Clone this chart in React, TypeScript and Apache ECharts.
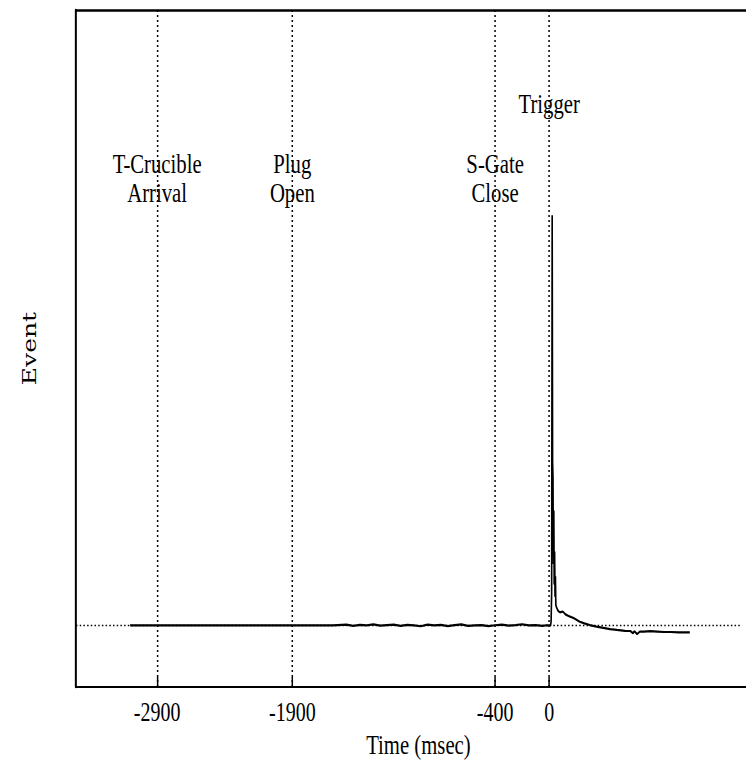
import React, { useEffect, useRef } from "react";
import * as echarts from "echarts";

// ---- data ----
const tickValues = [-2900, -1900, -400, 0];
const eventTimes = [-2900, -1900, -400, 0];
const eventLabels = [["T-Crucible", "Arrival"], ["Plug", "Open"], ["S-Gate", "Close"], ["Trigger"]];

const preTimes = [-3100, -2900, -2700, -2500, -2300, -2100, -1900, -1700, -1600, -1500, -1450, -1400, -1350, -1300, -1250, -1200, -1150, -1100, -1050, -1000, -950, -900, -850, -800, -750, -700, -650, -600, -550, -500, -450, -400, -350, -300, -250, -200, -150, -100, -50, -20, 0, 10];
const preValues = [0, 0, 0.05, 0, 0.05, 0, 0, 0.05, 0, 0.2, -0.1, 0.15, 0, 0.25, -0.05, 0.1, 0.2, -0.1, 0.15, 0, -0.2, 0.2, 0, 0.15, -0.15, 0.1, 0.25, -0.1, 0, 0.1, -0.15, 0.05, 0.2, -0.05, 0.1, 0.3, 0, 0.1, -0.1, 0.05, 0, 0];

const postTimes = [14, 18, 22, 25, 28, 31, 34, 37, 40, 43, 46, 49, 53, 65, 80, 100, 120, 150, 180, 226, 260, 300, 350, 400, 450, 500, 560, 600, 620, 630, 650, 670, 700, 750, 800, 850, 900, 960, 1040];
const postValues = [1, 8, 100, 40, 36, 15, 28, 10, 18, 7, 12, 5, 4.5, 3.6, 3.2, 3.4, 2.7, 2.2, 1.8, 0.9, 0.5, 0.1, -0.3, -0.6, -0.9, -1.1, -1.3, -1.35, -1.9, -1.4, -2.1, -1.5, -1.5, -1.4, -1.5, -1.6, -1.6, -1.7, -1.7];

const X_MIN = -3500;
const X_MAX = 1565;
const Y_MIN = -15;
const Y_MAX = 150;

const SX = 0.74;
const W = 746;
const H = 768;
const EXTRA = 20;
const CW = W / SX + EXTRA;

export default function App() {
  const ref = useRef<HTMLDivElement>(null);
  useEffect(() => {
    if (!ref.current) return;
    const chart = echarts.init(ref.current, undefined, { renderer: "svg", width: CW, height: H });
    const data: number[][] = [];
    preTimes.forEach((t, i) => data.push([t, preValues[i]]));
    postTimes.forEach((t, i) => data.push([t, postValues[i]]));
    const serif = "'Liberation Serif', 'Times New Roman', serif";
    chart.setOption({
      animation: false,
      grid: { left: 76 / SX, right: 0, top: 10, bottom: 81 },
      xAxis: [
        {
          type: "value",
          min: X_MIN,
          max: X_MAX,
          axisLine: { show: true, onZero: false, lineStyle: { color: "#000", width: 2 } },
          axisTick: { show: true, inside: true, length: 10, customValues: tickValues, lineStyle: { color: "#000", width: 2 } },
          axisLabel: {
            show: true,
            customValues: tickValues,
            formatter: (v: number) => String(v),
            fontFamily: serif,
            fontSize: 27,
            color: "#000",
            margin: 11,
          },
          splitLine: { show: false },
          name: "Time (msec)",
          nameLocation: "middle",
          nameGap: 36,
          nameTextStyle: { fontFamily: serif, fontSize: 28, color: "#000" },
        },
        {
          type: "value",
          position: "top",
          min: X_MIN,
          max: X_MAX,
          axisLine: { show: true, onZero: false, lineStyle: { color: "#000", width: 2.5 } },
          axisTick: { show: false },
          axisLabel: { show: false },
          splitLine: { show: false },
        },
      ],
      yAxis: {
        type: "value",
        min: Y_MIN,
        max: Y_MAX,
        axisLine: { show: true, onZero: false, lineStyle: { color: "#000", width: 2.7 } },
        axisTick: { show: false },
        axisLabel: { show: false },
        splitLine: { show: false },
        name: "Event",
        nameLocation: "middle",
        nameGap: 50,
        nameTextStyle: { fontFamily: "'DejaVu Serif', serif", fontSize: 25, color: "#000" },
      },
      series: [
        {
          type: "line",
          data,
          symbol: "none",
          showSymbol: false,
          lineStyle: { color: "#000", width: 2.2 },
          markLine: {
            silent: true,
            symbol: ["none", "none"],
            label: { show: false },
            lineStyle: { color: "#000", type: [2, 3], width: 2 },
            data: [
              ...eventTimes.map((t) => ({ xAxis: t })),
              { yAxis: 0, lineStyle: { color: "#000", type: [2, 3], width: 1.3 } },
            ],
          },
        },
      ],
    });
    const graphics: any[] = [];
    eventTimes.forEach((t, i) => {
      const px = chart.convertToPixel({ xAxisIndex: 0 }, t) as number;
      const lines = eventLabels[i];
      const ys = lines.length === 1 ? [103] : [163, 192];
      lines.forEach((txt, j) => {
        graphics.push({
          type: "text",
          x: px,
          y: ys[j],
          silent: true,
          style: {
            text: txt,
            fontFamily: serif,
            fontSize: 28,
            fill: "#000",
            align: "center",
            verticalAlign: "middle",
          },
        });
      });
    });
    chart.setOption({ graphic: graphics });
    return () => chart.dispose();
  }, []);
  return (
    <div style={{ position: "fixed", left: 0, top: 0, width: W, height: H, overflow: "hidden", background: "#fff" }}>
      <div
        ref={ref}
        style={{ width: CW, height: H, transform: `scaleX(${SX})`, transformOrigin: "0 0" }}
      />
      <div style={{ position: "absolute", left: W - 4, top: 14, width: 4, height: 668, background: "#fff" }} />
    </div>
  );
}
